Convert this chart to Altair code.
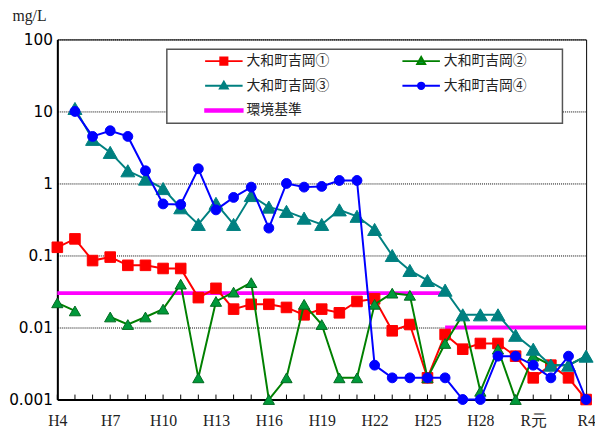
import altair as alt
import pandas as pd

# ---- data -------------------------------------------------------------
years = ["H4", "H5", "H6", "H7", "H8", "H9", "H10", "H11", "H12", "H13",
         "H14", "H15", "H16", "H17", "H18", "H19", "H20", "H21", "H22", "H23",
         "H24", "H25", "H26", "H27", "H28", "H29", "H30", "R元", "R2", "R3", "R4"]
label_years = ["H4", "H7", "H10", "H13", "H16", "H19", "H22", "H25", "H28", "R元", "R4"]

site1 = [0.13, 0.17, 0.085, 0.095, 0.073, 0.073, 0.066, 0.066, 0.026, 0.035,
         0.018, 0.021, 0.021, 0.019, 0.015, 0.018, 0.016, 0.023, 0.025, 0.009,
         0.011, 0.002, 0.008, 0.005, 0.006, 0.006, 0.004, 0.002, 0.003, 0.002, 0.001]
site2 = [0.022, 0.017, None, 0.014, 0.011, 0.014, 0.018, 0.040, 0.002, 0.023,
         0.031, 0.042, 0.001, 0.002, 0.021, 0.011, 0.002, 0.002, 0.021, 0.030,
         0.028, 0.002, 0.006, 0.015, 0.0013, 0.005, 0.001, 0.004, 0.003, 0.003, 0.004]
site3 = [None, 11, 4.1, 2.7, 1.5, 1.15, 0.85, 0.46, 0.27, 0.53,
         0.27, 0.68, 0.47, 0.41, 0.33, 0.27, 0.43, 0.35, 0.23, 0.10,
         0.062, 0.045, 0.033, 0.015, 0.015, 0.015, 0.0078, 0.005, 0.003, 0.003, 0.004]
site4 = [None, 10, 4.5, 5.4, 4.5, 1.5, 0.52, 0.51, 1.6, 0.43,
         0.64, 0.89, 0.24, 1.0, 0.89, 0.91, 1.1, 1.1, 0.003, 0.002,
         0.002, 0.002, 0.002, 0.001, 0.001, 0.004, 0.004, 0.003, 0.002, 0.004, 0.001]

std_years = ["H4", "H26", "H26", "R4"]
std_values = [0.03, 0.03, 0.01, 0.01]
std_segment = [0, 0, 1, 1]

y_tick_values = [0.001, 0.01, 0.1, 1, 10, 100]

series_names = ["大和町吉岡①", "大和町吉岡②", "大和町吉岡③", "大和町吉岡④"]
std_name = "環境基準"
legend_names = series_names + [std_name]
line_colors = ["#FF0000", "#008000", "#008080", "#0000FF", "#FF00FF"]
fill_colors = ["#FF0000", "#00993A", "#008080", "#0000FF", "#FF00FF"]
point_shapes = ["square", "triangle-up", "triangle-up", "circle"]
point_sizes = [115, 130, 200, 100]
point_strokes = ["#FF0000", "#006A20", "#008080", "#0000FF"]

legend_paths = [
    "M-1,0H1M-0.19,-0.19H0.19V0.19H-0.19Z",
    "M-1,0H1M0,-0.22L0.21,0.15H-0.21Z",
    "M-1,0H1M0,-0.22L0.21,0.15H-0.21Z",
    "M-1,0H1M-0.17,0A0.17,0.17 0 1,0 0.17,0A0.17,0.17 0 1,0 -0.17,0Z",
    "M-1,-0.07H1V0.07H-1Z",
]

for s in (site1, site2, site3, site4):
    assert len(s) == len(years)

# ---- encodings (identical in every layer so the axes merge) ---------
xscale = alt.Scale(type="point", domain=years, padding=0)
yscale = alt.Scale(type="log", domain=[0.001, 100])

X = alt.X("year:N", scale=xscale, axis=alt.Axis(
    orient="bottom", values=label_years, title=None, ticks=False,
    labelAngle=0, labelFont="Liberation Serif", labelFontSize=16,
    labelColor="#222", labelPadding=13, labelOverlap=False, labelFlush=False,
    domain=True, domainColor="black", domainWidth=2, grid=False))

Y = alt.Y("value:Q", scale=yscale, axis=alt.Axis(
    values=y_tick_values, format="~g",
    title="mg/L", titleAngle=0, titleAlign="left", titleBaseline="middle",
    titleX=-46, titleY=-24, titleFont="Liberation Serif", titleFontSize=16,
    titleFontWeight="normal", titleColor="#222",
    labelFont="DejaVu Sans", labelFontSize=15.5, labelColor="black",
    labelPadding=5, ticks=False, domain=True, domainColor="black",
    domainWidth=2, grid=True, gridColor="black", gridDash=[1, 1],
    gridWidth=1, gridOpacity=1))

# ---- layers -----------------------------------------------------------
# inward tick marks at every year along the bottom axis
tick_df = pd.DataFrame({"year": years})
ticks = alt.Chart(tick_df).mark_rule(color="black", strokeWidth=1).encode(
    x=X, y=alt.value(360), y2=alt.value(365))

std_df = pd.DataFrame({"year": std_years, "value": std_values, "seg": std_segment})
std_layer = alt.Chart(std_df).mark_line(color="#FF00FF", strokeWidth=4).encode(
    x=X, y=Y, detail="seg:N")

layers = [ticks, std_layer]
for i, vals in enumerate([site1, site2, site3, site4]):
    df = pd.DataFrame({"year": years, "value": vals})
    line = alt.Chart(df).mark_line(color=line_colors[i], strokeWidth=2).encode(
        x=X, y=Y)
    pts = alt.Chart(df).mark_point(
        shape=point_shapes[i], filled=True, size=point_sizes[i],
        fill=fill_colors[i], stroke=point_strokes[i], strokeWidth=1, opacity=1
    ).encode(x=X, y=Y)
    layers += [line, pts]

frame = alt.Chart(pd.DataFrame({"k": [0]})).mark_rect(
    fill="white", stroke="#555555", strokeWidth=1.5).encode(
    x=alt.value(111), x2=alt.value(512), y=alt.value(10), y2=alt.value(85))
layers.append(frame)

leg = alt.Legend(
    title=None, orient="none", legendX=148.8, legendY=9.5, columns=2,
    direction="horizontal",
    columnPadding=73, rowPadding=0, clipHeight=25, symbolSize=1444,
    symbolStrokeWidth=2, symbolOpacity=1, labelFont="Noto Sans CJK JP",
    labelFontSize=14, labelColor="#222", labelOffset=3, padding=0,
    labelLimit=300)

legend_df = pd.DataFrame({"series": legend_names})
legend_layer = alt.Chart(legend_df).mark_point(filled=True, opacity=0).encode(
    fill=alt.Fill("series:N", scale=alt.Scale(domain=legend_names, range=fill_colors), legend=leg),
    stroke=alt.Stroke("series:N", scale=alt.Scale(domain=legend_names, range=line_colors), legend=leg),
    shape=alt.Shape("series:N", scale=alt.Scale(domain=legend_names, range=legend_paths), legend=leg),
)
layers.append(legend_layer)

chart = alt.layer(*layers).properties(
    width=536, height=365,
    padding={"left": 50, "top": 29, "right": 9, "bottom": 26},
    autosize=alt.AutoSizeParams(type="none"),
    background="white",
).configure_view(stroke="black", strokeWidth=1)

chart.save("out.html", embed_options={"renderer": "svg", "actions": False})
